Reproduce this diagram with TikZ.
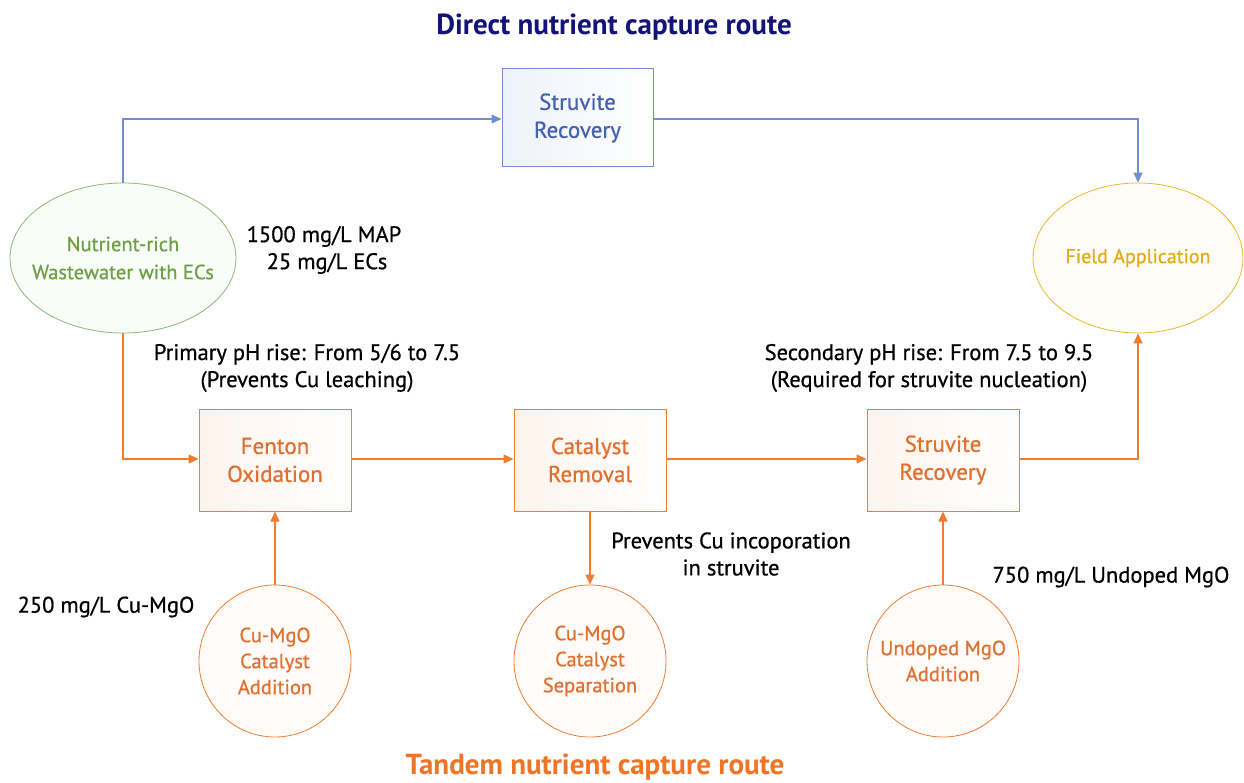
\documentclass[tikz,border=0pt]{standalone}
\usepackage{fontspec}
\setmainfont{PT Sans}
\newfontfamily\medfont{PT Sans}[FakeBold=0.7]
\usetikzlibrary{arrows.meta,shapes.geometric}
\definecolor{borange}{HTML}{ED7D31}
\definecolor{torange}{HTML}{E07030}
\definecolor{bblue}{HTML}{6F8FCF}
\definecolor{tblue}{HTML}{4463AE}
\definecolor{bgreen}{HTML}{8DB873}
\definecolor{tgreen}{HTML}{6EA048}
\definecolor{byellow}{HTML}{E8B830}
\definecolor{tyellow}{HTML}{E0AC18}
\definecolor{navy}{HTML}{141478}
\definecolor{ttitle}{HTML}{F07424}
\tikzset{
  every node/.style={font=\medfont\fontsize{17}{21}\selectfont},
  obox/.style={draw=borange, line width=1pt, minimum width=152pt, minimum height=102pt, inner sep=0pt,
    left color=borange!9, right color=white, text=torange, align=center,
    font=\medfont\fontsize{23}{28}\selectfont},
  bbox/.style={draw=bblue, line width=1pt, minimum width=151pt, minimum height=98pt, inner sep=0pt,
    left color=bblue!12, right color=white, text=tblue, align=center,
    font=\medfont\fontsize{23}{28}\selectfont},
  ocirc/.style={draw=borange, circle, line width=0.8pt, minimum size=152pt, inner sep=0pt,
    fill=borange!3, text=torange, align=center, font=\medfont\fontsize{20.5}{26}\selectfont},
  oval/.style={ellipse, line width=0.8pt, minimum height=150pt, inner sep=0pt},
  oline/.style={draw=borange, line width=1.3pt, -{Triangle[length=10pt,width=9pt]}},
  bline/.style={draw=bblue, line width=1.3pt, -{Triangle[length=10pt,width=9pt]}},
  lbl/.style={text=black, align=center, font=\medfont\fontsize{22.5}{27}\selectfont},
}
\begin{document}
\begin{tikzpicture}[x=1pt,y=-1pt]
\useasboundingbox (0,0) rectangle (1244,783);
% titles
\node[text=navy, font=\fontsize{29}{34}\selectfont\bfseries] (t1) at (614,27) {Direct nutrient capture route};
\node[text=ttitle, font=\fontsize{29}{34}\selectfont\bfseries] (t2) at (595,767) {Tandem nutrient capture route};
% nodes
\node[oval, draw=bgreen, fill=bgreen!4, minimum width=226pt] (ww) at (123,258) {};
\node[text=tgreen, align=center, font=\medfont\fontsize{20.5}{28}\selectfont] (wwt) at (ww.center) {Nutrient-rich\\Wastewater with ECs};
\node[oval, draw=byellow, fill=byellow!4, minimum width=210pt] (fa) at (1138,258) {};
\node[text=tyellow, font=\medfont\fontsize{20}{25}\selectfont] (fat) at (fa.center) {Field Application};
\node[bbox] (sr1) at (577.5,118) {Struvite\\Recovery};
\node[obox] (fo) at (275,460) {Fenton\\Oxidation};
\node[obox] (cr) at (590,460) {Catalyst\\Removal};
\node[obox] (sr2) at (943,460) {Struvite\\Recovery};
\node[ocirc] (ca) at (275,661) {Cu-MgO\\Catalyst\\Addition};
\node[ocirc] (cs) at (590,661) {Cu-MgO\\Catalyst\\Separation};
\node[ocirc] (ua) at (943,661) {Undoped MgO\\Addition};
% connectors
\coordinate (b1) at (123,119);
\coordinate (b2) at (1138,119);
\draw[bline] (ww.north) -- (b1) -- (sr1.west |- b1);
\draw[bline] (sr1.east |- b1) -- (b2) -- (fa.north);
\coordinate (o1) at (123,459);
\coordinate (o2) at (1138,459);
\draw[oline] (ww.south) -- (o1) -- (fo.west |- o1);
\draw[oline] (fo.east |- o1) -- (cr.west |- o1);
\draw[oline] (cr.east |- o1) -- (sr2.west |- o1);
\draw[oline] (sr2.east |- o1) -- (o2) -- (fa.south);
\draw[oline] (ca.north) -- (fo.south);
\draw[oline] (cr.south) -- (cs.north);
\draw[oline] (ua.north) -- (sr2.south);
% labels
\node[lbl] (l1) at (324,250) {1500 mg/L MAP\\ \ 25 mg/L ECs};
\node[lbl] (l2) at (307,368) {Primary pH rise: From 5/6 to 7.5\\(Prevents Cu leaching)};
\node[lbl] (l3) at (929,368) {Secondary pH rise: From 7.5 to 9.5\\(Required for struvite nucleation)};
\node[lbl] (l4) at (731,554) {Prevents Cu incoporation\\in struvite\hspace{2em}};
\node[lbl] (l5) at (106,607) {250 mg/L Cu-MgO};
\node[lbl] (l6) at (1111,577) {750 mg/L Undoped MgO};
\end{tikzpicture}
\end{document}
